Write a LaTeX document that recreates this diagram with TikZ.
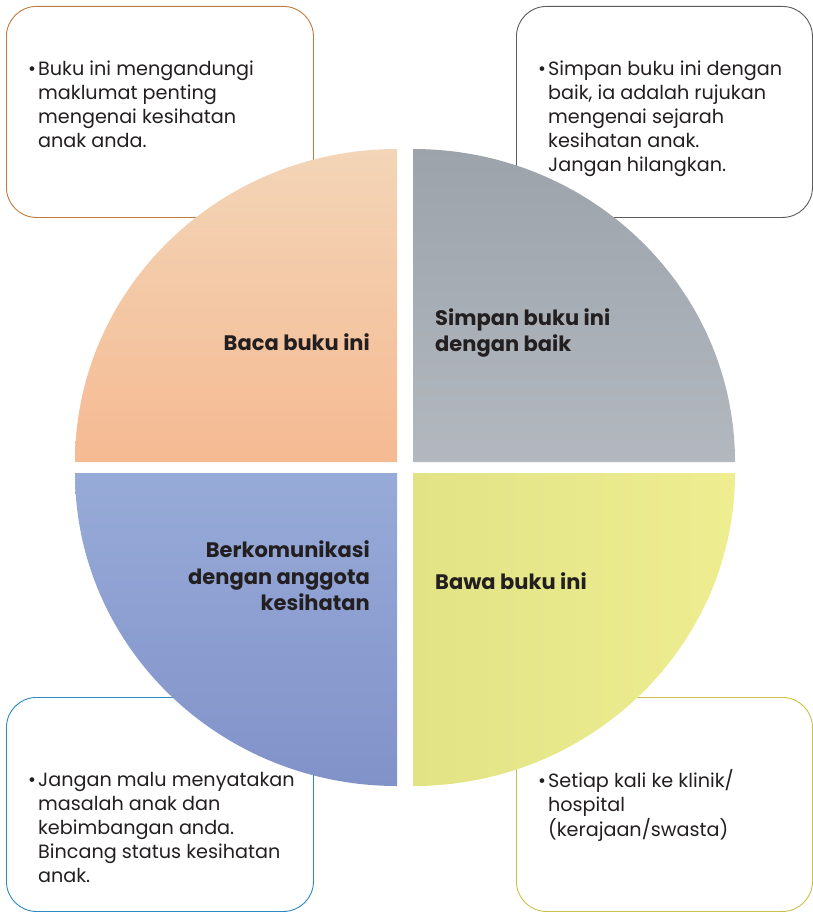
\documentclass[tikz,border=0pt]{standalone}
\usepackage{fontspec}
\setmainfont{Poppins}
\usetikzlibrary{positioning}
\definecolor{inkgray}{HTML}{231F20}
\definecolor{readline}{HTML}{BF7A3E}
\definecolor{keepline}{HTML}{5C5C5C}
\definecolor{talkline}{HTML}{2B8BC0}
\definecolor{bringline}{HTML}{CBC04A}
\definecolor{readtop}{HTML}{F3D5B7}
\definecolor{readbottom}{HTML}{F5BA92}
\definecolor{keeptop}{HTML}{9CA3AA}
\definecolor{keepbottom}{HTML}{B3B8BF}
\definecolor{talktop}{HTML}{97ABD8}
\definecolor{talkbottom}{HTML}{8192C9}
\definecolor{bringleft}{HTML}{E1E385}
\definecolor{bringright}{HTML}{EEEE91}
\tikzset{infobox/.style={draw, line width=0.9pt, rounded corners=30pt, fill=white, anchor=north west, minimum height=211pt}}
\tikzset{notetext/.style={inner sep=0pt, text=inkgray, font=\fontsize{19.2}{24}\selectfont}}
\tikzset{quartertitle/.style={inner sep=0pt, text=inkgray, font=\bfseries\fontsize{21}{26.5}\selectfont}}
\newcommand{\noteitem}[1]{\begin{tabular}{@{}l@{\hspace{2pt}}l@{}}\textbullet & #1\end{tabular}}

\begin{document}
\begin{tikzpicture}[x=1pt, y=1pt]
\useasboundingbox (0,0) rectangle (813,-912);
% boxes behind the circle
\node[infobox, draw=readline, minimum width=307pt] (readbox) at (6,-6) {};
\node[infobox, draw=keepline, minimum width=296pt] (keepbox) at (516,-6) {};
\node[infobox, draw=talkline, minimum width=307pt, minimum height=214pt] (talkbox) at (6,-697) {};
\node[infobox, draw=bringline, minimum width=296pt, minimum height=214pt] (bringbox) at (516,-697) {};
% four quarters
\shade[top color=readtop, bottom color=readbottom] (397,-462) -- (75,-462) arc[start angle=180, end angle=90, x radius=322, y radius=313] -- cycle;
\shade[top color=keeptop, bottom color=keepbottom] (413,-462) -- (413,-149) arc[start angle=90, end angle=0, x radius=322, y radius=313] -- cycle;
\shade[top color=talktop, bottom color=talkbottom] (397,-473) -- (75,-473) arc[start angle=180, end angle=270, x radius=322, y radius=313] -- cycle;
\shade[left color=bringleft, right color=bringright] (413,-473) -- (735,-473) arc[start angle=0, end angle=-90, x radius=322, y radius=313] -- cycle;
% titles
\node[quartertitle, anchor=east] (readtitle) at (370,-342) {Baca buku ini};
\node[quartertitle, anchor=west, align=left] (keeptitle) at (435,-333) {Simpan buku ini\\dengan baik};
\node[quartertitle, anchor=east, align=right] (talktitle) at (370,-576) {Berkomunikasi\\dengan anggota\\kesihatan};
\node[quartertitle, anchor=west] (bringtitle) at (435,-581) {Bawa buku ini};
% notes
\node[notetext, below right=53pt and 22pt of readbox.north west] (readnote) {\noteitem{Buku ini mengandungi\\ & maklumat penting\\ & mengenai kesihatan\\ & anak anda.}};
\node[notetext, below right=53pt and 22pt of keepbox.north west] (keepnote) {\noteitem{Simpan buku ini dengan\\ & baik, ia adalah rujukan\\ & mengenai sejarah\\ & kesihatan anak.\\ & Jangan hilangkan.}};
\node[notetext, below right=72pt and 22pt of talkbox.north west] (talknote) {\noteitem{Jangan malu menyatakan\\ & masalah anak dan\\ & kebimbangan anda.\\ & Bincang status kesihatan\\ & anak.}};
\node[notetext, below right=72pt and 22pt of bringbox.north west] (bringnote) {\noteitem{Setiap kali ke klinik/\\ & hospital\\ & (kerajaan/swasta)}};
\end{tikzpicture}
\end{document}
